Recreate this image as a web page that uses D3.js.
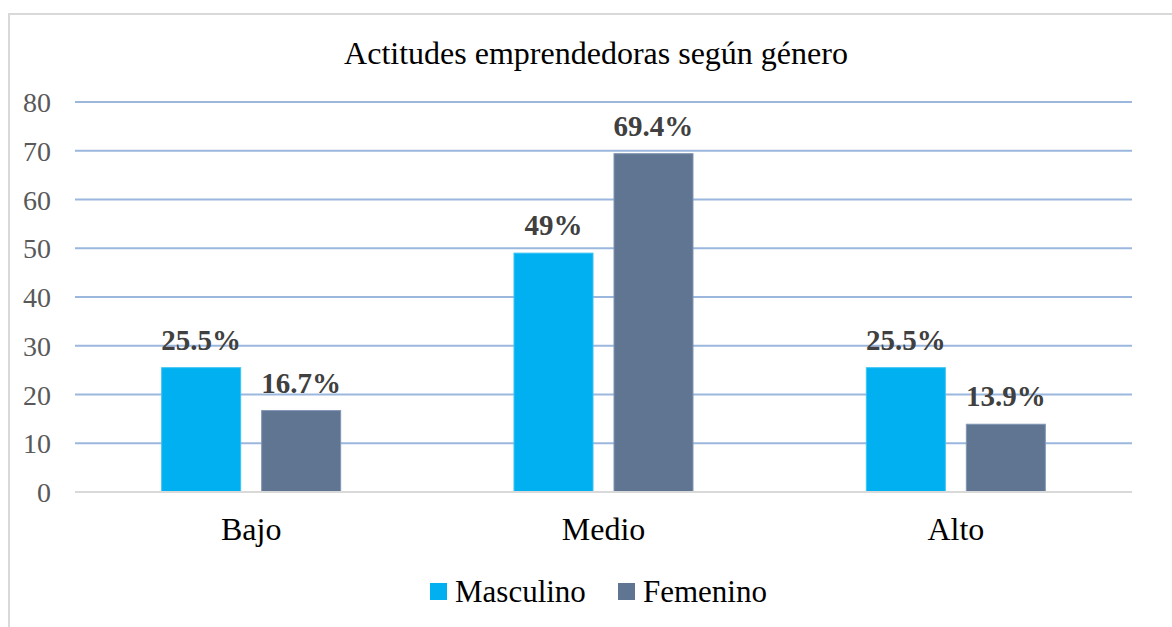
<!DOCTYPE html>
<html><head><meta charset="utf-8">
<script src="https://cdn.jsdelivr.net/npm/d3@7"></script>
<style>body{margin:0;background:#fff;}svg{display:block;}</style>
</head><body>
<svg id="c" width="1172" height="627"></svg>
<script>
const categories = ["Bajo", "Medio", "Alto"];
const seriesNames = ["Masculino", "Femenino"];
const masculino = [25.5, 49, 25.5];
const femenino = [16.7, 69.4, 13.9];
const labelsMasc = ["25.5%", "49%", "25.5%"];
const labelsFem = ["16.7%", "69.4%", "13.9%"];
const yTicks = [0, 10, 20, 30, 40, 50, 60, 70, 80];
const colors = ["#00B0F0", "#5F7592"];

const svg = d3.select("#c");
const font = "'Liberation Serif', 'Times New Roman', serif";

// chart border
svg.append("rect").attr("x", 9).attr("y", 14).attr("width", 1180).attr("height", 640)
  .attr("fill", "#fff").attr("stroke", "#d9d9d9").attr("stroke-width", 2);

const plotL = 75, plotR = 1132, plotT = 102, plotB = 492;
const y = d3.scaleLinear().domain([0, 80]).range([plotB, plotT]);
const x0 = d3.scaleBand().domain(categories).range([plotL, plotR]);
const groupW = 179;
const x1 = d3.scaleBand().domain(seriesNames)
  .range([(x0.bandwidth() - groupW) / 2, (x0.bandwidth() + groupW) / 2]).paddingInner(0.21);

// gridlines
svg.append("g").selectAll("line").data(yTicks.filter(d => d > 0)).join("line")
  .attr("x1", plotL).attr("x2", plotR)
  .attr("y1", d => y(d)).attr("y2", d => y(d))
  .attr("stroke", "#9BB7DE").attr("stroke-width", 2);

// y tick labels
svg.append("g").selectAll("text").data(yTicks).join("text")
  .attr("x", 51).attr("y", d => y(d) + 10)
  .attr("text-anchor", "end").attr("font-family", font).attr("font-size", 28)
  .attr("fill", "#595959").text(d => d);

// bars
const data = categories.map((c, i) => ({
  cat: c,
  vals: [
    { s: seriesNames[0], v: masculino[i], lab: labelsMasc[i], col: colors[0] },
    { s: seriesNames[1], v: femenino[i], lab: labelsFem[i], col: colors[1] }
  ]
}));

const groups = svg.append("g").selectAll("g").data(data).join("g")
  .attr("transform", d => `translate(${x0(d.cat)},0)`);

groups.selectAll("rect").data(d => d.vals).join("rect")
  .attr("x", d => x1(d.s)).attr("width", x1.bandwidth())
  .attr("y", d => y(d.v)).attr("height", d => y(0) - y(d.v))
  .attr("fill", d => d.col)
  .attr("stroke", d => d.s === "Femenino" ? "#8096B4" : "#3CC3F3").attr("stroke-width", 1);

groups.selectAll("text.lab").data(d => d.vals).join("text").attr("class", "lab")
  .attr("x", d => x1(d.s) + x1.bandwidth() / 2).attr("y", d => y(d.v) - 18)
  .attr("text-anchor", "middle").attr("font-family", font).attr("font-size", 29)
  .attr("font-weight", "bold").attr("fill", "#404040").text(d => d.lab);

// zero axis line
svg.append("line").attr("x1", plotL).attr("x2", plotR).attr("y1", y(0)).attr("y2", y(0))
  .attr("stroke", "#d9d9d9").attr("stroke-width", 2);

// category labels
svg.append("g").selectAll("text").data(categories).join("text")
  .attr("x", d => x0(d) + x0.bandwidth() / 2).attr("y", 540)
  .attr("text-anchor", "middle").attr("font-family", font).attr("font-size", 32)
  .attr("fill", "#000").text(d => d);

// title
svg.append("text").attr("x", 596).attr("y", 64).attr("text-anchor", "middle")
  .attr("font-family", font).attr("font-size", 32).attr("fill", "#000")
  .text("Actitudes emprendedoras según género");

// legend
const legX = [430, 618];
const leg = svg.append("g").selectAll("g").data(seriesNames).join("g")
  .attr("transform", (d, i) => `translate(${legX[i]},0)`);
leg.append("rect").attr("x", 0).attr("y", 583).attr("width", 17).attr("height", 17)
  .attr("fill", (d, i) => colors[i]);
leg.append("text").attr("x", 25).attr("y", 602).attr("font-family", font)
  .attr("font-size", 31).attr("fill", "#000").text(d => d);
</script>
</body></html>
